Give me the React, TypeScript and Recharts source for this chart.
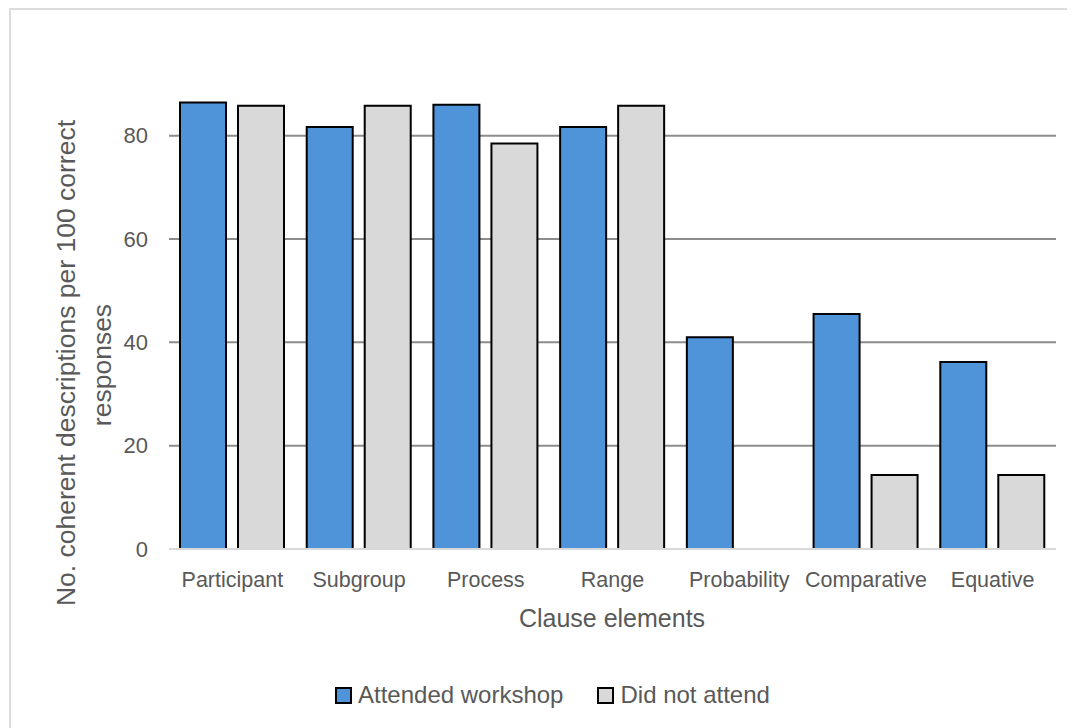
import { BarChart, Bar, XAxis, YAxis, CartesianGrid } from 'recharts';

// Clause element categories and the two groups
const categories = ['Participant', 'Subgroup', 'Process', 'Range', 'Probability', 'Comparative', 'Equative'];
const attended = [86.4, 81.7, 86.0, 81.7, 41.0, 45.5, 36.2];
const didNotAttend = [85.8, 85.8, 78.5, 85.8, 0, 14.3, 14.3];
const yTicks = [0, 20, 40, 60, 80];

const seriesNames = ['Attended workshop', 'Did not attend'];
const BLUE = '#4f94d9';
const GREY = '#d9d9d9';
const FONT = '"Liberation Sans", Arial, sans-serif';
const TEXT = '#595959';

const data = categories.map((name, i) => ({
    name,
    attended: attended[i],
    didNot: didNotAttend[i],
}));

const YTitle = () => (
    <g fill={TEXT} fontSize={26.5} fontFamily={FONT}>
        <text x={67} y={355} transform="rotate(-90, 67, 355)" textAnchor="middle">
            No. coherent descriptions per 100 correct
        </text>
        <text x={103} y={357} transform="rotate(-90, 103, 357)" textAnchor="middle">
            responses
        </text>
    </g>
);

const XTitle = () => (
    <text x={604} y={619} textAnchor="middle" fill={TEXT} fontSize={25} fontFamily={FONT}>
        Clause elements
    </text>
);

const App = () => {
    const swatch = (color: string) => (
        <span
            style={{
                display: 'inline-block',
                width: 13,
                height: 13,
                background: color,
                border: '2px solid #000',
                marginRight: 6,
                verticalAlign: '-1px',
            }}
        />
    );

    return (
        <div style={{ position: 'relative', width: 1067, height: 720, fontFamily: FONT }}>
            <div
                style={{
                    position: 'absolute',
                    left: 1,
                    top: 0,
                    width: 1080,
                    height: 740,
                    borderTop: '2px solid #dcdcdc',
                    borderLeft: '2px solid #dcdcdc',
                }}
            />
            <BarChart
                width={1067}
                height={720}
                data={data}
                margin={{ top: 76, right: 19, bottom: 79, left: 101 }}
                barCategoryGap={11}
                barGap={12}
            >
                <CartesianGrid vertical={false} horizontalValues={yTicks} stroke="#8c8c8c" strokeWidth={2} />
                <XAxis
                    dataKey="name"
                    height={100}
                    tickLine={false}
                    tickSize={0}
                    tickMargin={23}
                    axisLine={{ stroke: '#d9d9d9', strokeWidth: 2 }}
                    tick={{ fill: TEXT, fontSize: 21.5, fontFamily: FONT }}
                    interval={0}
                    label={<XTitle />}
                />
                <YAxis
                    width={60}
                    domain={[0, 90]}
                    ticks={yTicks}
                    axisLine={false}
                    tickLine={false}
                    tickSize={0}
                    tickMargin={21}
                    tick={{ fill: TEXT, fontSize: 22, fontFamily: FONT }}
                    label={<YTitle />}
                />
                <Bar dataKey="attended" name={seriesNames[0]} fill={BLUE} stroke="#000" strokeWidth={2} isAnimationActive={false} />
                <Bar dataKey="didNot" name={seriesNames[1]} fill={GREY} stroke="#000" strokeWidth={2} isAnimationActive={false} />
            </BarChart>
            <div
                style={{
                    position: 'absolute',
                    left: 327,
                    top: 672,
                    fontSize: 24,
                    color: TEXT,
                    whiteSpace: 'nowrap',
                    lineHeight: '30px',
                }}
            >
                <span>{swatch(BLUE)}{seriesNames[0]}</span>
                <span style={{ marginLeft: 34 }}>{swatch(GREY)}{seriesNames[1]}</span>
            </div>
        </div>
    );
};

export default App;
